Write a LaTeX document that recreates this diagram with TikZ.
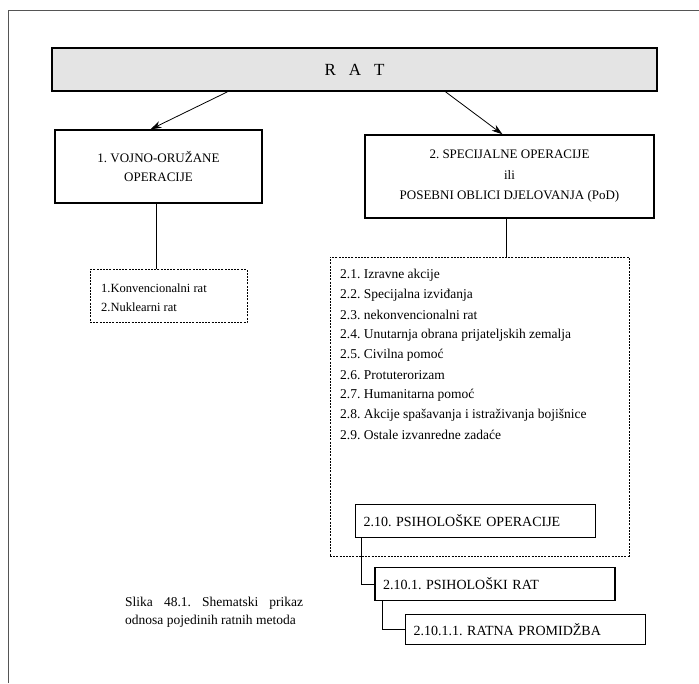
\documentclass[tikz,border=0pt]{standalone}
\usepackage{fontspec}
\setmainfont{Liberation Serif}
\usepackage{tikz}
\usetikzlibrary{arrows.meta,positioning,calc}
\definecolor{framegray}{HTML}{555555}
\definecolor{barfill}{HTML}{E4E4E4}
\frenchspacing

\tikzset{
  opbox/.style={draw, line width=1.3pt, inner sep=0pt, align=center,
    font=\fontsize{13}{19.5}\selectfont},
  subbox/.style={opbox, align=left, inner xsep=8pt, inner ysep=0pt,
    minimum height=33pt, text width=224pt, font=\fontsize{14}{16}\selectfont},
  dotbox/.style={draw, dash pattern=on 2pt off 1.2pt, line width=0.8pt, inner sep=0pt},
  listitem/.style={anchor=west, inner sep=0pt, font=\fontsize{13.5}{16}\selectfont},
  link/.style={line width=0.8pt},
  down/.style={link, -{Stealth[length=11pt,width=7pt]}}
}

\begin{document}
\begin{tikzpicture}[x=1pt,y=-1pt]
  \useasboundingbox (0,0) rectangle (699,683);
  % page frame
  \draw[framegray,line width=1pt] (8,683) -- (8,10) -- (699,10);

  % top bar
  \node[opbox, fill=barfill, line width=1.6pt, minimum width=605pt, minimum height=43pt,
        font=\fontsize{17}{19}\selectfont] (rat) at (354.5,69.5)
        {R\hspace{13pt}A\hspace{13pt}T};

  % main branches
  \node[opbox, minimum width=207pt, minimum height=73pt] (vojno) at (158.5,166.5)
        {1. VOJNO-ORUŽANE\\OPERACIJE};
  \node[opbox, minimum width=289pt, minimum height=83pt,
        font=\fontsize{13}{20.5}\selectfont] (spec) at (509.5,176.5)
        {2. SPECIJALNE OPERACIJE\\ili\\POSEBNI OBLICI DJELOVANJA (PoD)};

  \draw[down] ([xshift=-127pt]rat.south) -- ([xshift=-8pt]vojno.north);
  \draw[down] ([xshift=91pt]rat.south) -- ([xshift=-7pt]spec.north);

  % sub lists
  \node[dotbox, minimum width=157pt, minimum height=53pt] (konv) at (168.5,296) {};
  \node[listitem, font=\fontsize{12.5}{15}\selectfont] (konv1) at (101,288) {1.Konvencionalni rat};
  \node[listitem, font=\fontsize{12.5}{15}\selectfont] (konv2) at (101,307) {2.Nuklearni rat};

  \node[dotbox, minimum width=299pt, minimum height=299pt] (posebni) at (479.5,406.5) {};
  \foreach \txt [count=\i] in {Izravne akcije, Specijalna izviđanja,
      nekonvencionalni rat, Unutarnja obrana prijateljskih zemalja,
      Civilna pomoć, Protuterorizam, Humanitarna pomoć,
      Akcije spašavanja i istraživanja bojišnice, Ostale izvanredne zadaće}
    \node[listitem] (item\i) at (340,255+20*\i) {2.\i. \txt};

  \draw[link] ([xshift=-2.5pt]vojno.south) -- ([xshift=-2.5pt]vojno.south |- konv.north);
  \draw[link] ([xshift=-3.5pt]spec.south) -- ([xshift=-3.5pt]spec.south |- posebni.north);

  % psychological operations chain
  \node[subbox, fill=white] (psiop) at (475.5,521) {2.10. PSIHOLOŠKE OPERACIJE};
  \node[subbox] (psirat) at (495,584) {2.10.1. PSIHOLOŠKI RAT};
  \node[subbox, minimum height=30pt] (promid) at (525.5,629.5) {2.10.1.1. RATNA PROMIDŽBA};

  \draw[link] ([xshift=7pt]psiop.south west) |- (psirat.west);
  \draw[link] ([xshift=8pt]psirat.south west) |- (promid.west);

  % caption
  \node[anchor=north west, inner sep=0pt, text width=178pt, align=justify,
        font=\fontsize{13.5}{18}\selectfont] (caption) at (125,597)
        {Slika 48.1. Shematski prikaz\linebreak odnosa pojedinih ratnih metoda};
\end{tikzpicture}
\end{document}
